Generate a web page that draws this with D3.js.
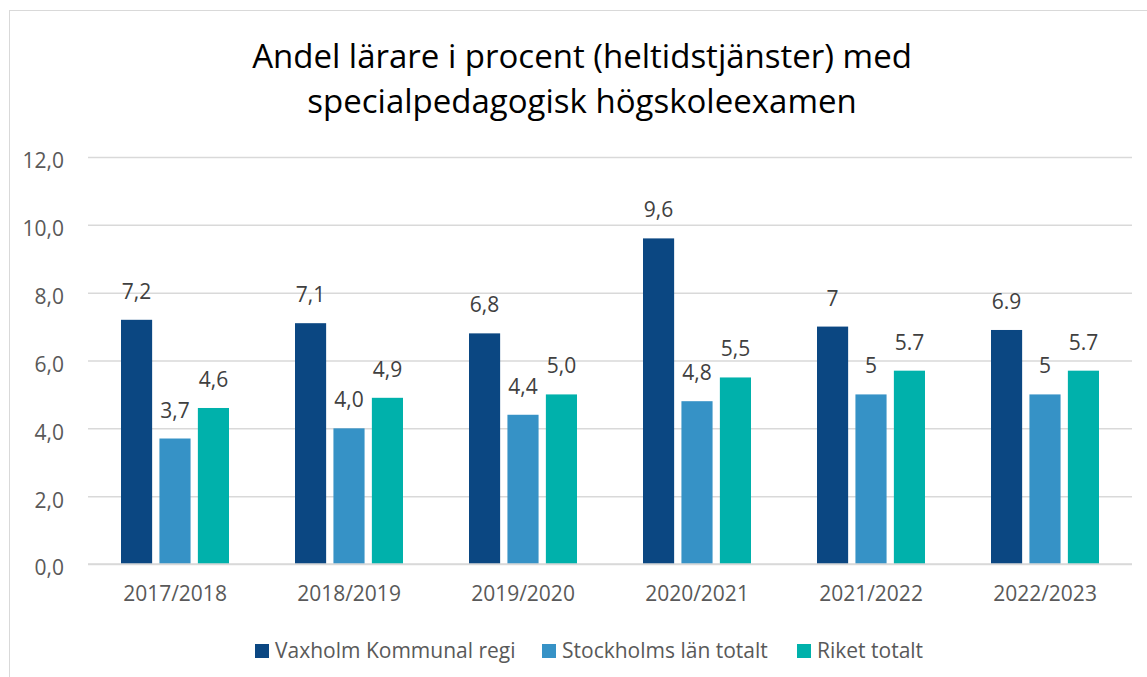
<!DOCTYPE html>
<html>
<head>
<meta charset="utf-8">
<script src="https://cdn.jsdelivr.net/npm/d3@7"></script>
<style>
  body { margin: 0; background: #fff; }
  svg { display: block; font-family: "Open Sans", "Noto Sans", sans-serif; }
</style>
</head>
<body>
<div id="chart"></div>
<script>
var categories = ['2017/2018', '2018/2019', '2019/2020', '2020/2021', '2021/2022', '2022/2023'];
var seriesNames = ['Vaxholm Kommunal regi', 'Stockholms län totalt', 'Riket totalt'];
var vaxholm = [7.2, 7.1, 6.8, 9.6, 7, 6.9];
var stockholm = [3.7, 4.0, 4.4, 4.8, 5, 5];
var riket = [4.6, 4.9, 5.0, 5.5, 5.7, 5.7];
// labels as printed on the chart (mixed decimal marks in the source)
var vaxholmLabels = ['7,2', '7,1', '6,8', '9,6', '7', '6.9'];
var stockholmLabels = ['3,7', '4,0', '4,4', '4,8', '5', '5'];
var riketLabels = ['4,6', '4,9', '5,0', '5,5', '5.7', '5.7'];
var yTicks = [0, 2, 4, 6, 8, 10, 12];
var titleLines = ['Andel lärare i procent (heltidstjänster) med', 'specialpedagogisk högskoleexamen'];
var colors = ['#0b4782', '#3692c6', '#00b1ab'];

var width = 1147, height = 677;
var margin = {left: 88, right: 15, top: 157, bottom: 113};

var series = [
    {name: seriesNames[0], values: vaxholm, labels: vaxholmLabels},
    {name: seriesNames[1], values: stockholm, labels: stockholmLabels},
    {name: seriesNames[2], values: riket, labels: riketLabels}
];

var svg = d3.select('#chart').append('svg')
    .attr('width', width)
    .attr('height', height);

// chart area border
svg.append('rect')
    .attr('x', 9.5)
    .attr('y', 10.5)
    .attr('width', width + 20)
    .attr('height', height + 20)
    .attr('fill', 'none')
    .attr('stroke', '#d9d9d9')
    .attr('stroke-width', 1);

svg.append('g').selectAll('text')
    .data(titleLines)
    .enter().append('text')
    .attr('x', 582)
    .attr('y', function(d, i) { return 68 + i * 45; })
    .attr('text-anchor', 'middle')
    .attr('font-size', 33)
    .attr('fill', '#000')
    .text(function(d) { return d; });

var x0 = d3.scaleBand()
    .domain(categories)
    .range([margin.left, width - margin.right]);

var x1 = d3.scaleBand()
    .domain(d3.range(series.length))
    .range([33, x0.bandwidth() - 33])
    .paddingInner(0.19);

var y = d3.scaleLinear()
    .domain([0, 12])
    .range([height - margin.bottom, margin.top]);

// gridlines
var yAxis = svg.append('g')
    .attr('transform', 'translate(' + margin.left + ',0)')
    .call(d3.axisLeft(y)
        .tickValues(yTicks)
        .tickSize(-(width - margin.left - margin.right))
        .tickPadding(24)
        .tickFormat(function(d) { return d3.format('.1f')(d).replace('.', ','); }));
yAxis.select('.domain').remove();
yAxis.selectAll('.tick line').attr('stroke', '#d9d9d9').attr('stroke-width', 1.5);
yAxis.selectAll('.tick text')
    .attr('font-size', 21)
    .attr('dy', '0.52em')
    .attr('fill', '#595959')
    .attr('font-family', '"Open Sans", sans-serif');

// bars
var groups = svg.append('g').selectAll('g')
    .data(categories)
    .enter().append('g')
    .attr('transform', function(d) { return 'translate(' + x0(d) + ',0)'; });

groups.selectAll('rect')
    .data(function(d, i) { return series.map(function(s, j) { return {s: j, v: s.values[i], label: s.labels[i]}; }); })
    .enter().append('rect')
    .attr('x', function(d) { return x1(d.s); })
    .attr('width', x1.bandwidth())
    .attr('y', function(d) { return y(d.v); })
    .attr('height', function(d) { return y(0) - y(d.v); })
    .attr('fill', function(d) { return colors[d.s]; });

groups.selectAll('text')
    .data(function(d, i) { return series.map(function(s, j) { return {s: j, v: s.values[i], label: s.labels[i]}; }); })
    .enter().append('text')
    .attr('x', function(d) { return x1(d.s) + x1.bandwidth() / 2; })
    .attr('y', function(d) { return y(d.v) - 21; })
    .attr('text-anchor', 'middle')
    .attr('font-size', 21)
    .attr('fill', '#404040')
    .text(function(d) { return d.label; });

// x axis
var xAxis = svg.append('g')
    .attr('transform', 'translate(0,' + y(0) + ')')
    .call(d3.axisBottom(x0).tickSize(0).tickPadding(22));
xAxis.select('.domain').remove();
xAxis.selectAll('.tick text')
    .attr('font-size', 21)
    .attr('fill', '#595959')
    .attr('font-family', '"Open Sans", sans-serif');
// baseline
svg.append('line')
    .attr('x1', margin.left)
    .attr('x2', width - margin.right)
    .attr('y1', y(0))
    .attr('y2', y(0))
    .attr('stroke', '#d9d9d9')
    .attr('stroke-width', 1.5);

// legend
var legendX = [255, 542, 797];
var legend = svg.append('g').selectAll('g')
    .data(series)
    .enter().append('g')
    .attr('transform', function(d, i) { return 'translate(' + legendX[i] + ',644)'; });
legend.append('rect')
    .attr('width', 14)
    .attr('height', 14)
    .attr('fill', function(d, i) { return colors[i]; });
legend.append('text')
    .attr('x', 20)
    .attr('y', 14)
    .attr('font-size', 21)
    .attr('fill', '#595959')
    .text(function(d) { return d.name; });
</script>
</body>
</html>
